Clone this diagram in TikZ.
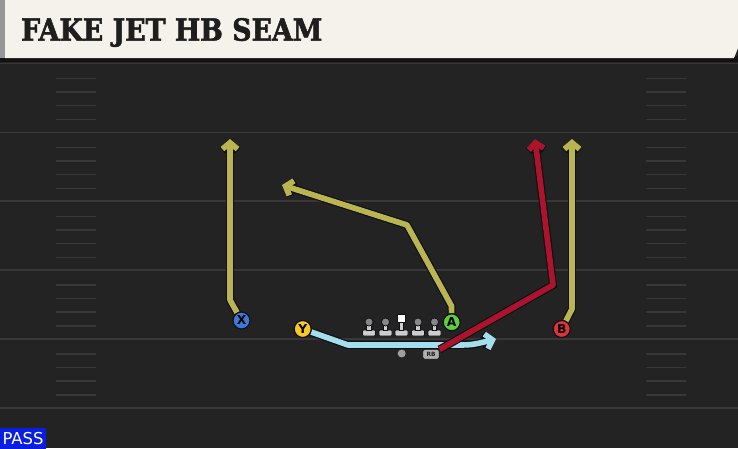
\documentclass[tikz,border=0pt]{standalone}
\usepackage{fontspec}
\setmainfont{DejaVu Sans}
\newfontfamily\titlefont{DejaVu Serif}[BoldFeatures={FakeBold=1.8,FakeStretch=0.88}]
\usepackage{tikz}
\definecolor{field}{RGB}{35,35,35}
\definecolor{paper}{RGB}{245,242,235}
\definecolor{stripe}{RGB}{150,150,150}
\definecolor{headline}{RGB}{18,18,18}
\definecolor{yard}{RGB}{56,56,56}
\definecolor{ink}{RGB}{30,30,30}
\definecolor{outline}{RGB}{15,15,20}
\definecolor{xblue}{RGB}{60,120,215}
\definecolor{yyellow}{RGB}{245,200,40}
\definecolor{agreen}{RGB}{95,205,60}
\definecolor{bred}{RGB}{225,50,60}
\definecolor{olive}{RGB}{186,181,80}
\definecolor{crimson}{RGB}{172,20,45}
\definecolor{skyblue}{RGB}{162,222,236}
\definecolor{manbody}{RGB}{205,205,205}
\definecolor{manhead}{RGB}{135,135,135}
\definecolor{passblue}{RGB}{10,30,225}
\usetikzlibrary{arrows.meta}
\pgfdeclarelayer{fieldlayer}
\pgfdeclarelayer{edgelayer}
\pgfdeclarelayer{nodelayer}
\pgfsetlayers{fieldlayer,edgelayer,nodelayer,main}
\tikzstyle{player}=[circle,draw=outline,line width=1pt,minimum size=14.5pt,inner sep=0pt,font=\bfseries\fontsize{10.5}{10.5}\selectfont]
\tikzstyle{route}=[line width=4.8pt,line join=round,preaction={draw=outline,line width=6.8pt},-{Straight Barb[length=5.5pt,width=13pt]}]
\tikzstyle{yardline}=[yard,line width=1.5pt]
\tikzstyle{hashmark}=[yard,line width=1.3pt]
\tikzset{lineman/.pic={
    \fill[manbody,draw=outline,line width=0.6pt,rounded corners=1pt] (-6.5,-6) rectangle (6.5,0);
    \fill[manbody,draw=outline,line width=0.6pt] (-2.2,-10.5) rectangle (2.2,-6);
    \fill[manhead,draw=outline,line width=0.6pt] (0,-14) circle (4);
}}
\tikzset{snapman/.pic={
    \fill[manbody,draw=outline,line width=0.6pt,rounded corners=1pt] (-6.5,-6) rectangle (6.5,0);
    \fill[manbody,draw=outline,line width=0.6pt] (-2.2,-14) rectangle (2.2,-6);
    \fill[white,draw=outline,line width=0.6pt] (-4,-22) rectangle (4,-14);
}}

\begin{document}
\begin{tikzpicture}[x=0.03cm,y=-0.03cm]
        \useasboundingbox (0,0) rectangle (738,448);
        \begin{pgfonlayer}{fieldlayer}
            \fill[field] (0,0) rectangle (738,448);
            \fill[headline] (0,56) rectangle (738,62);
            \fill[paper] (5,0) -- (738,0) -- (738,48) -- (734,58) -- (5,58) -- cycle;
            \fill[stripe] (0,0) rectangle (5,58);
            \foreach \i in {0,...,5} {
                \pgfmathsetmacro\ly{63.5+68.9*\i}
                \draw[yardline] (0,\ly) -- (738,\ly);
            }
            \foreach \i in {0,...,4} \foreach \o in {15,28.5,42,56} {
                \pgfmathsetmacro\hy{63.5+68.9*\i+\o}
                \draw[hashmark] (56,\hy) -- (96,\hy);
                \draw[hashmark] (646,\hy) -- (686,\hy);
            }
        \end{pgfonlayer}

        \begin{pgfonlayer}{nodelayer}
            \node [anchor=west, text=ink, inner sep=0pt, font=\titlefont\bfseries\fontsize{26}{26}\selectfont] (title) at (21,32.5) {FAKE JET HB SEAM};
            \node [fill=passblue, text=white, inner sep=0pt, minimum width=39pt, minimum height=17.5pt, font=\fontsize{14}{14}\selectfont] (pass) at (23,438.5) {PASS};

            \node [style=player, fill=xblue] (X) at (241.5,320.5) {X};
            \node [style=player, fill=yyellow] (Y) at (302.7,329) {Y};
            \node [style=player, fill=agreen] (A) at (451.7,322.3) {A};
            \node [style=player, fill=bred] (B) at (561.7,329) {B};

            \pic at (369,336) {lineman};
            \pic at (385.5,336) {lineman};
            \pic at (401.5,336) {snapman};
            \pic at (418,336) {lineman};
            \pic at (434.5,336) {lineman};

            \node [circle, fill=manhead!80, inner sep=0pt, minimum size=6.8pt] (ball) at (401.7,353.5) {};
            \node [fill=manbody!85!black, draw=outline, line width=0.5pt, rounded corners=2pt, inner sep=0pt, minimum width=14pt, minimum height=8.5pt, text=ink, font=\bfseries\fontsize{5}{5}\selectfont] (RB) at (431,354.3) {RB};
        \end{pgfonlayer}

        \coordinate (xbend) at (230,300);
        \coordinate (xend) at (230,139);
        \coordinate (abend) at (451.5,306);
        \coordinate (acut) at (407,225);
        \coordinate (aend) at (282,185);
        \coordinate (bbend) at (572,309);
        \coordinate (bend) at (572,139);
        \coordinate (ybend) at (348,345);
        \coordinate (yflat) at (452,345);
        \coordinate (yend) at (496,339);
        \coordinate (rbcut) at (553,285);
        \coordinate (rbend) at (535,139);

        \begin{pgfonlayer}{edgelayer}
            \draw [style=route, olive] (X) -- (xbend) -- (xend);
            \draw [style=route, olive] (A) -- (abend) -- (acut) -- (aend);
            \draw [style=route, olive] (B) -- (bbend) -- (bend);

            \draw [style=route, skyblue] (Y) -- (ybend) -- (yflat) .. controls (472,345) .. (yend);
            \draw [style=route, crimson] (RB) -- (rbcut) -- (rbend);
        \end{pgfonlayer}
    \end{tikzpicture}
\end{document}
